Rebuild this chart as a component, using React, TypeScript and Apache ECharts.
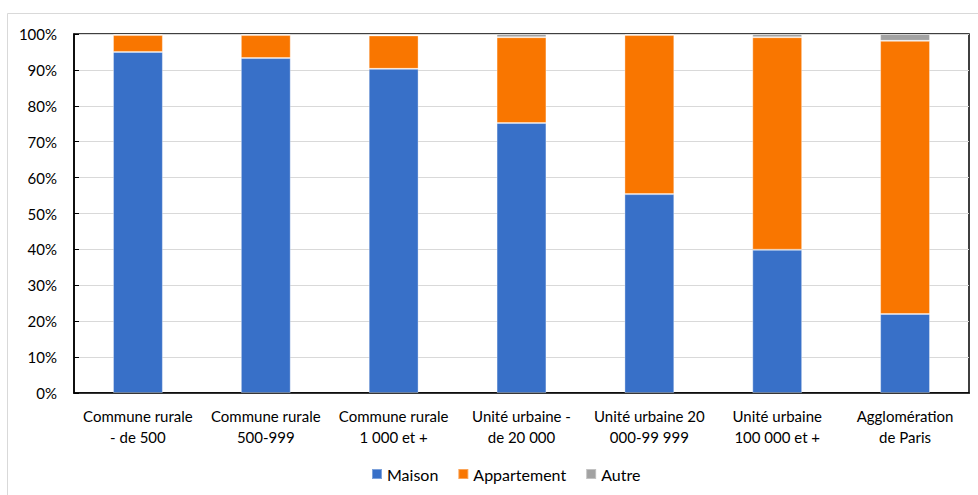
import React, { useEffect, useRef } from "react";
import * as echarts from "echarts";

const categories = [
  "Commune rurale\n- de 500",
  "Commune rurale\n500-999",
  "Commune rurale\n1 000 et +",
  "Unité urbaine -\nde 20 000",
  "Unité urbaine 20\n000-99 999",
  "Unité urbaine\n100 000 et +",
  "Agglomération\nde Paris",
];
const maison = [95.0, 93.3, 90.3, 75.2, 55.4, 39.9, 22.0];
const appartement = [4.7, 6.4, 9.3, 23.9, 44.3, 59.2, 76.1];
const autre = [0.3, 0.3, 0.4, 0.9, 0.3, 0.9, 1.9];
const yTicks = [0, 10, 20, 30, 40, 50, 60, 70, 80, 90, 100];

const FONT = "Lato";

export default function App() {
  const ref = useRef<HTMLDivElement>(null);
  useEffect(() => {
    if (!ref.current) return;
    const chart = echarts.init(ref.current, undefined, { renderer: "svg" });
    const barStyle = (color: string) => ({
      color,
      borderColor: "rgba(255,255,255,0.35)",
      borderWidth: 1,
    });
    chart.setOption({
      animation: false,
      textStyle: { fontFamily: FONT },
      graphic: [
        {
          type: "rect",
          shape: { x: 7.5, y: 13.5, width: 1000, height: 600 },
          style: { fill: "none", stroke: "#d9d9d9", lineWidth: 1 },
          silent: true,
          z: -10,
        },
      ],
      grid: {
        left: 74,
        top: 34,
        right: 9,
        bottom: 102,
        show: true,
        borderColor: "#000",
        borderWidth: 1.5,
        containLabel: false,
      },
      legend: {
        top: 466,
        left: 371,
        itemWidth: 10,
        itemHeight: 10,
        itemGap: 19,
        padding: 0,
        icon: "rect",
        textStyle: { fontFamily: FONT, fontSize: 16, color: "#000" },
        data: ["Maison", "Appartement", "Autre"],
      },
      xAxis: {
        type: "category",
        data: categories,
        axisLine: { lineStyle: { color: "#000", width: 1.5 } },
        axisTick: { show: false },
        axisLabel: {
          interval: 0,
          color: "#000",
          fontFamily: FONT,
          fontSize: 15,
          lineHeight: 21,
          margin: 12,
        },
      },
      yAxis: {
        type: "value",
        min: yTicks[0],
        max: yTicks[yTicks.length - 1],
        interval: 10,
        axisLine: { show: true, lineStyle: { color: "#000", width: 1.5 } },
        axisTick: { show: true, inside: true, length: 5, lineStyle: { color: "#000" } },
        splitLine: { lineStyle: { color: "#d9d9d9", width: 1 } },
        axisLabel: {
          color: "#000",
          fontFamily: FONT,
          fontSize: 15,
          margin: 17,
          formatter: "{value}%",
        },
      },
      series: [
        {
          name: "Maison",
          type: "bar",
          stack: "total",
          data: maison,
          barWidth: "39%",
          itemStyle: barStyle("#3870C8"),
        },
        {
          name: "Appartement",
          type: "bar",
          stack: "total",
          data: appartement,
          itemStyle: barStyle("#F97600"),
        },
        {
          name: "Autre",
          type: "bar",
          stack: "total",
          data: autre,
          itemStyle: barStyle("#A2A2A2"),
        },
      ],
    });
    return () => chart.dispose();
  }, []);
  return (
    <div
      ref={ref}
      style={{ position: "fixed", left: 0, top: 0, width: 978, height: 495, background: "#fff" }}
    />
  );
}
